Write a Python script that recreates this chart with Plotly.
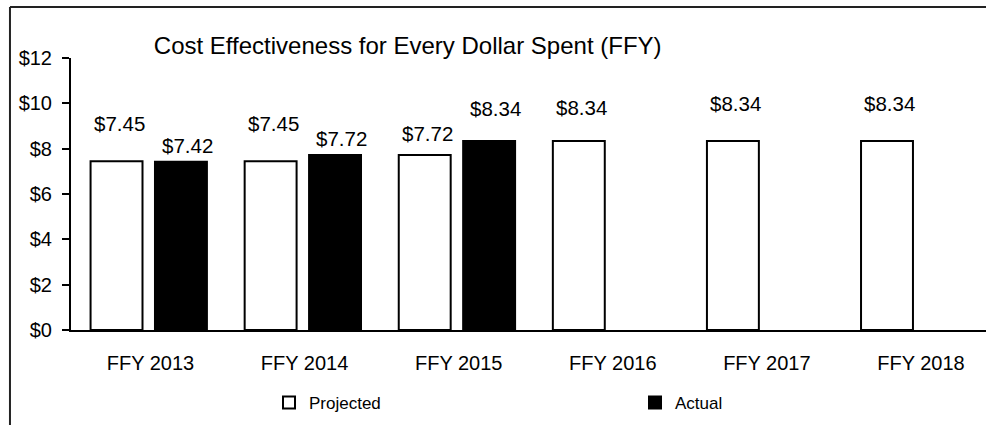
import plotly.graph_objects as go

# data
years = ["FFY 2013", "FFY 2014", "FFY 2015", "FFY 2016", "FFY 2017", "FFY 2018"]
projected = [7.45, 7.45, 7.72, 8.34, 8.34, 8.34]
actual = [7.42, 7.72, 8.34, None, None, None]

FONT = "Liberation Sans, Arial, sans-serif"

# label lifts above the bar top (px), as drawn in the original
proj_lift = [38, 38, 22, 33, 37, 37]
act_lift = [16, 17, 32]

fig = go.Figure()
fig.add_trace(go.Bar(
    x=years, y=projected, name="Projected", legend="legend",
    width=0.337, offset=-0.389,
    marker=dict(color="white", line=dict(color="black", width=2)),
))
fig.add_trace(go.Bar(
    x=years, y=actual, name="Actual", legend="legend2",
    width=0.337, offset=0.029,
    marker=dict(color="black", line=dict(color="black", width=2)),
))

annotations = []
for i, (yr, v) in enumerate(zip(years, projected)):
    annotations.append(dict(
        x=yr, y=v, text=f"${v:.2f}", showarrow=False,
        xshift=-31, yshift=proj_lift[i], yanchor="middle",
        font=dict(size=20.5, color="black", family=FONT)))
for i, (yr, v) in enumerate(zip(years, actual)):
    if v is None:
        continue
    annotations.append(dict(
        x=yr, y=v, text=f"${v:.2f}", showarrow=False,
        xshift=37, yshift=act_lift[i], yanchor="middle",
        font=dict(size=20.5, color="black", family=FONT)))

legend_style = dict(
    orientation="h", xanchor="left", y=-0.268, yanchor="middle",
    font=dict(size=17, color="black", family=FONT),
    bgcolor="rgba(0,0,0,0)")

fig.update_layout(
    width=986, height=425,
    margin=dict(l=71, r=0, t=58, b=95),
    paper_bgcolor="white", plot_bgcolor="white",
    barmode="overlay",
    showlegend=True,
    font=dict(family=FONT, size=20, color="black"),
    title=dict(
        text="Cost Effectiveness for Every Dollar Spent (FFY)",
        xref="container", x=0.156, xanchor="left",
        yref="container", y=0.892, yanchor="middle",
        font=dict(size=24, color="black", family=FONT)),
    xaxis=dict(
        range=[-0.516, 5.422],
        showline=True, linecolor="black", linewidth=2,
        ticks="", showgrid=False, zeroline=False,
        ticklabelstandoff=14,
        tickfont=dict(size=20)),
    yaxis=dict(
        range=[0, 12], dtick=2, tickprefix="$",
        showline=True, linecolor="black", linewidth=2,
        ticks="outside", ticklen=7, tickcolor="black", tickwidth=2,
        showgrid=False, zeroline=False,
        ticklabelstandoff=6,
        tickfont=dict(size=20)),
    legend=dict(x=0.2164, **legend_style),
    legend2=dict(x=0.6164, **legend_style),
    annotations=annotations,
    shapes=[
        dict(type="line", xref="paper", yref="paper",
             x0=-0.0667, x1=-0.0667, y0=-0.4, y1=1.1875,
             line=dict(color="#222", width=2)),
        dict(type="line", xref="paper", yref="paper",
             x0=-0.0667, x1=1.0, y0=1.1875, y1=1.1875,
             line=dict(color="#222", width=2)),
    ],
)

fig.write_html("out.html", config={"displayModeBar": False},
               post_script="document.body.style.margin='0';")
